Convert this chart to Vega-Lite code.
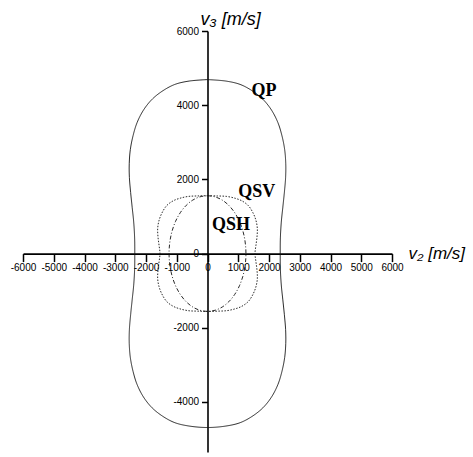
{
  "$schema": "https://vega.github.io/schema/vega-lite/v6.json",
  "width": 369,
  "height": 421,
  "autosize": {"type": "none"},
  "padding": {"left": 23, "top": 31, "right": 81, "bottom": 5},
  "background": "white",
  "config": {"view": {"stroke": null}, "axis": {"labelOverlap": false, "labelSeparation": 0}},
  "layer": [
    {
      "data": {"values": [
        {"c":"QP","o":0,"x":0,"y":4690},{"c":"QP","o":1,"x":600,"y":4650},{"c":"QP","o":2,"x":1060,"y":4560},{"c":"QP","o":3,"x":1450,"y":4390},{"c":"QP","o":4,"x":1800,"y":4160},{"c":"QP","o":5,"x":2080,"y":3870},{"c":"QP","o":6,"x":2290,"y":3530},{"c":"QP","o":7,"x":2420,"y":3180},{"c":"QP","o":8,"x":2510,"y":2800},{"c":"QP","o":9,"x":2545,"y":2420},{"c":"QP","o":10,"x":2540,"y":2050},{"c":"QP","o":11,"x":2500,"y":1650},{"c":"QP","o":12,"x":2450,"y":1250},{"c":"QP","o":13,"x":2400,"y":850},{"c":"QP","o":14,"x":2370,"y":420},{"c":"QP","o":15,"x":2365,"y":0},
        {"c":"QP","o":16,"x":2370,"y":-420},{"c":"QP","o":17,"x":2400,"y":-850},{"c":"QP","o":18,"x":2450,"y":-1250},{"c":"QP","o":19,"x":2500,"y":-1650},{"c":"QP","o":20,"x":2540,"y":-2050},{"c":"QP","o":21,"x":2545,"y":-2420},{"c":"QP","o":22,"x":2510,"y":-2800},{"c":"QP","o":23,"x":2420,"y":-3180},{"c":"QP","o":24,"x":2290,"y":-3530},{"c":"QP","o":25,"x":2080,"y":-3870},{"c":"QP","o":26,"x":1800,"y":-4160},{"c":"QP","o":27,"x":1450,"y":-4390},{"c":"QP","o":28,"x":1060,"y":-4560},{"c":"QP","o":29,"x":600,"y":-4650},{"c":"QP","o":30,"x":0,"y":-4690},
        {"c":"QP","o":31,"x":-600,"y":-4650},{"c":"QP","o":32,"x":-1060,"y":-4560},{"c":"QP","o":33,"x":-1450,"y":-4390},{"c":"QP","o":34,"x":-1800,"y":-4160},{"c":"QP","o":35,"x":-2080,"y":-3870},{"c":"QP","o":36,"x":-2290,"y":-3530},{"c":"QP","o":37,"x":-2420,"y":-3180},{"c":"QP","o":38,"x":-2510,"y":-2800},{"c":"QP","o":39,"x":-2545,"y":-2420},{"c":"QP","o":40,"x":-2540,"y":-2050},{"c":"QP","o":41,"x":-2500,"y":-1650},{"c":"QP","o":42,"x":-2450,"y":-1250},{"c":"QP","o":43,"x":-2400,"y":-850},{"c":"QP","o":44,"x":-2370,"y":-420},{"c":"QP","o":45,"x":-2365,"y":0},
        {"c":"QP","o":46,"x":-2370,"y":420},{"c":"QP","o":47,"x":-2400,"y":850},{"c":"QP","o":48,"x":-2450,"y":1250},{"c":"QP","o":49,"x":-2500,"y":1650},{"c":"QP","o":50,"x":-2540,"y":2050},{"c":"QP","o":51,"x":-2545,"y":2420},{"c":"QP","o":52,"x":-2510,"y":2800},{"c":"QP","o":53,"x":-2420,"y":3180},{"c":"QP","o":54,"x":-2290,"y":3530},{"c":"QP","o":55,"x":-2080,"y":3870},{"c":"QP","o":56,"x":-1800,"y":4160},{"c":"QP","o":57,"x":-1450,"y":4390},{"c":"QP","o":58,"x":-1060,"y":4560},{"c":"QP","o":59,"x":-600,"y":4650},{"c":"QP","o":60,"x":0,"y":4690},

        {"c":"QSV","o":0,"x":0,"y":1560},{"c":"QSV","o":1,"x":320,"y":1553},{"c":"QSV","o":2,"x":624,"y":1540},{"c":"QSV","o":3,"x":900,"y":1490},{"c":"QSV","o":4,"x":1120,"y":1420},{"c":"QSV","o":5,"x":1330,"y":1290},{"c":"QSV","o":6,"x":1490,"y":1080},{"c":"QSV","o":7,"x":1580,"y":880},{"c":"QSV","o":8,"x":1620,"y":680},{"c":"QSV","o":9,"x":1610,"y":450},{"c":"QSV","o":10,"x":1575,"y":220},{"c":"QSV","o":11,"x":1545,"y":0},
        {"c":"QSV","o":12,"x":1575,"y":-220},{"c":"QSV","o":13,"x":1610,"y":-450},{"c":"QSV","o":14,"x":1620,"y":-680},{"c":"QSV","o":15,"x":1580,"y":-880},{"c":"QSV","o":16,"x":1490,"y":-1080},{"c":"QSV","o":17,"x":1330,"y":-1290},{"c":"QSV","o":18,"x":1120,"y":-1420},{"c":"QSV","o":19,"x":900,"y":-1490},{"c":"QSV","o":20,"x":624,"y":-1540},{"c":"QSV","o":21,"x":320,"y":-1553},{"c":"QSV","o":22,"x":0,"y":-1560},
        {"c":"QSV","o":23,"x":-320,"y":-1553},{"c":"QSV","o":24,"x":-624,"y":-1540},{"c":"QSV","o":25,"x":-900,"y":-1490},{"c":"QSV","o":26,"x":-1120,"y":-1420},{"c":"QSV","o":27,"x":-1330,"y":-1290},{"c":"QSV","o":28,"x":-1490,"y":-1080},{"c":"QSV","o":29,"x":-1580,"y":-880},{"c":"QSV","o":30,"x":-1620,"y":-680},{"c":"QSV","o":31,"x":-1610,"y":-450},{"c":"QSV","o":32,"x":-1575,"y":-220},{"c":"QSV","o":33,"x":-1545,"y":0},
        {"c":"QSV","o":34,"x":-1575,"y":220},{"c":"QSV","o":35,"x":-1610,"y":450},{"c":"QSV","o":36,"x":-1620,"y":680},{"c":"QSV","o":37,"x":-1580,"y":880},{"c":"QSV","o":38,"x":-1490,"y":1080},{"c":"QSV","o":39,"x":-1330,"y":1290},{"c":"QSV","o":40,"x":-1120,"y":1420},{"c":"QSV","o":41,"x":-900,"y":1490},{"c":"QSV","o":42,"x":-624,"y":1540},{"c":"QSV","o":43,"x":-320,"y":1553},{"c":"QSV","o":44,"x":0,"y":1560},

        {"c":"QSH","o":0,"x":0,"y":1560},{"c":"QSH","o":1,"x":250,"y":1528},{"c":"QSH","o":2,"x":480,"y":1441},{"c":"QSH","o":3,"x":690,"y":1301},{"c":"QSH","o":4,"x":884,"y":1103},{"c":"QSH","o":5,"x":1040,"y":866},{"c":"QSH","o":6,"x":1150,"y":611},{"c":"QSH","o":7,"x":1215,"y":367},{"c":"QSH","o":8,"x":1245,"y":139},{"c":"QSH","o":9,"x":1250,"y":0},
        {"c":"QSH","o":10,"x":1245,"y":-139},{"c":"QSH","o":11,"x":1215,"y":-367},{"c":"QSH","o":12,"x":1150,"y":-611},{"c":"QSH","o":13,"x":1040,"y":-866},{"c":"QSH","o":14,"x":884,"y":-1103},{"c":"QSH","o":15,"x":690,"y":-1301},{"c":"QSH","o":16,"x":480,"y":-1441},{"c":"QSH","o":17,"x":250,"y":-1528},{"c":"QSH","o":18,"x":0,"y":-1560},
        {"c":"QSH","o":19,"x":-250,"y":-1528},{"c":"QSH","o":20,"x":-480,"y":-1441},{"c":"QSH","o":21,"x":-690,"y":-1301},{"c":"QSH","o":22,"x":-884,"y":-1103},{"c":"QSH","o":23,"x":-1040,"y":-866},{"c":"QSH","o":24,"x":-1150,"y":-611},{"c":"QSH","o":25,"x":-1215,"y":-367},{"c":"QSH","o":26,"x":-1245,"y":-139},{"c":"QSH","o":27,"x":-1250,"y":0},
        {"c":"QSH","o":28,"x":-1245,"y":139},{"c":"QSH","o":29,"x":-1215,"y":367},{"c":"QSH","o":30,"x":-1150,"y":611},{"c":"QSH","o":31,"x":-1040,"y":866},{"c":"QSH","o":32,"x":-884,"y":1103},{"c":"QSH","o":33,"x":-690,"y":1301},{"c":"QSH","o":34,"x":-480,"y":1441},{"c":"QSH","o":35,"x":-250,"y":1528},{"c":"QSH","o":36,"x":0,"y":1560}
      ]},
      "mark": {"type": "line", "interpolate": "catmull-rom", "strokeWidth": 0.9, "color": "#111"},
      "encoding": {
        "x": {
          "field": "x", "type": "quantitative",
          "scale": {"domain": [-6000, 6000], "nice": false, "zero": false},
          "axis": {
            "orient": "bottom", "offset": -198.4,
            "tickCount": 12,
            "labelExpr": "'' + datum.value",
            "labelFont": "Liberation Sans", "labelFontSize": 10, "labelColor": "black",
            "labelFlush": false, "labelOverlap": false, "labelBound": false,
            "labelPadding": 1,
            "tickColor": "black", "tickWidth": 1.5, "tickSize": 8,
            "domainColor": "black", "domainWidth": 1.6,
            "grid": false,
            "title": "v₂ [m/s]", "titleFont": "Liberation Sans", "titleFontStyle": "italic",
            "titleFontWeight": "normal", "titleFontSize": 17, "titleColor": "black",
            "titleX": 385, "titleY": 5, "titleAlign": "left", "titleBaseline": "alphabetic", "titleAngle": 0
          }
        },
        "y": {
          "field": "y", "type": "quantitative",
          "scale": {"domain": [-5350, 6000], "nice": false, "zero": false},
          "axis": {
            "orient": "left", "offset": -184.5,
            "values": [-4000,-2000,0,2000,4000,6000],
            "labelExpr": "'' + datum.value",
            "labelFont": "Liberation Sans", "labelFontSize": 10, "labelColor": "black",
            "labelFlush": false, "labelOverlap": false, "labelBound": false,
            "labelPadding": 3,
            "tickColor": "black", "tickWidth": 1.5, "tickSize": 6,
            "domainColor": "black", "domainWidth": 1.6,
            "grid": false,
            "title": "v₃ [m/s]", "titleFont": "Liberation Sans", "titleFontStyle": "italic",
            "titleFontWeight": "normal", "titleFontSize": 18, "titleColor": "black",
            "titleX": -7.5, "titleY": -7, "titleAlign": "left", "titleBaseline": "alphabetic", "titleAngle": 0
          }
        },
        "order": {"field": "o", "type": "quantitative"},
        "strokeDash": {
          "field": "c", "type": "nominal",
          "scale": {"domain": ["QP", "QSV", "QSH"], "range": [[1, 0], [1.5, 1.5], [4, 2, 1, 2]]},
          "legend": null
        }
      }
    },
    {
      "data": {"values": [
        {"t": "QP", "x": 1837, "y": 4381},
        {"t": "QSV", "x": 1600, "y": 1658},
        {"t": "QSH", "x": 763, "y": 760}
      ]},
      "mark": {"type": "text", "font": "Liberation Serif", "fontWeight": "bold", "fontSize": 18, "baseline": "middle", "align": "center", "color": "black"},
      "encoding": {
        "x": {"field": "x", "type": "quantitative"},
        "y": {"field": "y", "type": "quantitative"},
        "text": {"field": "t"}
      }
    }
  ]
}
